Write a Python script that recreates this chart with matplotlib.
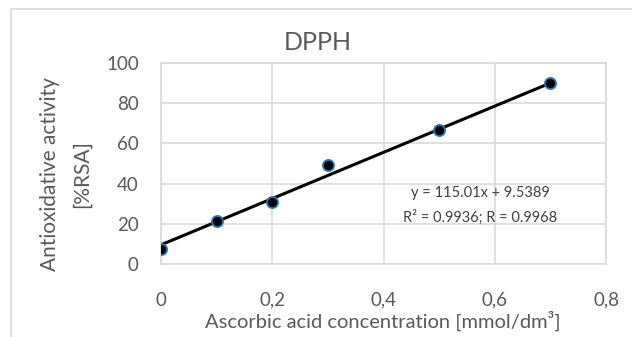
import numpy as np
import matplotlib.pyplot as plt
from matplotlib.patches import Rectangle

plt.rcParams['font.family'] = ['Lato', 'DejaVu Sans']

# data
conc = [0.0, 0.1, 0.2, 0.3, 0.5, 0.7]
rsa = [7.5, 21.4, 30.8, 49.3, 66.7, 90.0]
slope, intercept = 115.01, 9.5389
xticks = [0, 0.2, 0.4, 0.6, 0.8]
xtick_labels = ['0', '0,2', '0,4', '0,6', '0,8']
yticks = [0, 20, 40, 60, 80, 100]

W, H = 632, 337
fig = plt.figure(figsize=(W / 100, H / 100), dpi=100)
txt = '#595959'

# chart border
fig.patches.append(Rectangle((11 / W, -0.1), 2, 1.1 - 9 / H, transform=fig.transFigure,
                             fill=False, edgecolor='#d9d9d9', lw=1.2))

ax = fig.add_axes([161 / W, 1 - 264 / H, 445 / W, 201 / H])
ax.set_xlim(0, 0.8)
ax.set_ylim(0, 100)
ax.set_xticks(xticks)
ax.set_xticklabels(xtick_labels)
ax.set_yticks(yticks)
ax.grid(True, color='#d9d9d9', lw=1.2)
ax.set_axisbelow(True)
for s in ax.spines.values():
    s.set_color('#d9d9d9')
    s.set_linewidth(1.2)
ax.tick_params(length=0, colors=txt, labelsize=13.5)
ax.tick_params(axis='x', pad=20)
ax.tick_params(axis='y', pad=16)

xfit = np.array([conc[0], conc[-1]])
ax.plot(xfit, slope * xfit + intercept, color='black', lw=2.2, zorder=3)
ax.plot(conc, rsa, 'o', color='black', mec='#2e75b6', mew=1.3, ms=8, zorder=4)

fig.text(480 / W, 1 - 193 / H, 'y = 115.01x + 9.5389',
         ha='center', va='center', fontsize=10.5, color='#404040')
fig.text(480 / W, 1 - 217 / H, 'R² = 0.9936; R = 0.9968',
         ha='center', va='center', fontsize=10.5, color='#404040')

fig.text(318 / W, 1 - 43 / H, 'DPPH', ha='center', va='center', fontsize=18, color=txt)
fig.text(383 / W, 1 - 321 / H, 'Ascorbic acid concentration [mmol/dm³]',
         ha='center', va='center', fontsize=14.5, color=txt)
fig.text(66 / W, 1 - 174 / H, 'Antioxidative activity\n[%RSA]', rotation=90,
         ha='center', va='center', fontsize=15, color=txt, linespacing=1.7,
         multialignment='center')

fig.savefig('out.png', dpi=100)
